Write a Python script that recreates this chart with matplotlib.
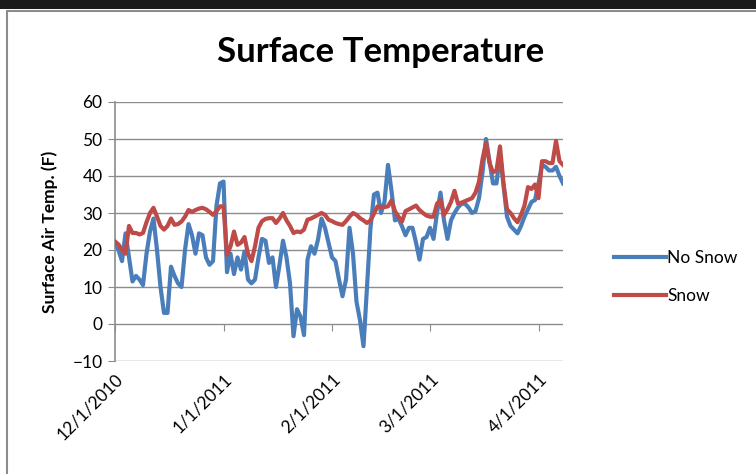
import pandas as pd
import matplotlib
matplotlib.use("Agg")
import matplotlib.pyplot as plt
from matplotlib.patches import Rectangle

# daily surface air temperature (F), starting 12/1/2010
start_date = "2010-12-01"
no_snow = [
    22, 20, 17, 24.5, 18, 11.5, 13, 12, 10.5, 19,
    25, 28.5, 20, 10, 3, 3, 15.5, 13, 11, 10,
    20, 27, 24, 19, 24.5, 24, 18, 16, 17, 32,
    38, 38.5, 14, 19, 13.5, 18, 14.7, 19.6, 12, 11,
    12, 18, 23, 22.5, 16.5, 18, 10, 16, 22.5, 18,
    11, -3.3, 4, 2, -3, 17.4, 21, 19, 22.8, 28.5,
    26, 22, 18, 17, 12, 7.5, 12, 26, 19, 6,
    1, -6, 10, 26, 35, 35.5, 30, 33, 43, 36,
    28, 28.5, 26.4, 24, 26, 26, 22, 17.4, 23, 23.5,
    26, 23, 30, 35.5, 28, 23, 28, 30, 31.5, 32.5,
    32.5, 31.5, 30, 30.5, 34, 41, 50, 44, 38, 38,
    46, 37.5, 29, 26.5, 25.5, 24.5, 26.5, 29, 31, 33,
    33.5, 38, 43, 42.5, 41.5, 41.5, 42.5, 40, 38,
]
snow = [
    22.3, 21.5, 20, 19, 26.5, 24.6, 24.6, 24.2, 24.6, 27.5,
    30, 31.4, 29, 26.5, 25.5, 26.5, 28.5, 26.8, 27, 27.7,
    29, 30.8, 30.3, 30.8, 31.2, 31.4, 31, 30.3, 29.5, 30.5,
    31.8, 31.8, 18.7, 21, 25, 21.4, 22, 23.5, 19, 17,
    21, 26, 27.8, 28.4, 28.6, 28.6, 27.3, 28.5, 30, 28,
    26.5, 24.6, 25, 24.8, 25.5, 28.2, 28.5, 29, 29.5, 30,
    29.5, 28.2, 27.8, 27.3, 27, 26.8, 27.8, 29, 30, 29.5,
    28.6, 28, 27.3, 28, 29.8, 31.8, 31.6, 31.6, 31.8, 33.4,
    30.5, 29, 27.7, 30.5, 31, 31.5, 32, 30.8, 30, 29.3,
    29, 29, 32.5, 33.5, 29.5, 31, 33, 36, 32.5, 32.8,
    33.2, 33.6, 34, 35.5, 38.5, 44.5, 49, 43.5, 41, 41.5,
    48, 38, 31, 30, 28.6, 27.5, 29.5, 32, 37, 36.5,
    37.7, 34, 44, 44, 43.5, 43.5, 49.5, 44, 43,
]
series_labels = ["No Snow", "Snow"]
month_ticks = ["2010-12-01", "2011-01-01", "2011-02-01", "2011-03-01", "2011-04-01"]

dates = pd.date_range(start_date, periods=len(no_snow), freq="D")

plt.rcParams["font.family"] = ["Lato", "DejaVu Sans"]

fig = plt.figure(figsize=(7.56, 4.74), dpi=100)

# chart frame like the spreadsheet export
fig.patches.append(Rectangle((0, 1 - 9 / 474), 1, 9 / 474, transform=fig.transFigure,
                             facecolor="#1a1a1a", edgecolor="none", zorder=-2))
fig.patches.append(Rectangle((7 / 756, -0.05), 1.0, 1 - 11 / 474 + 0.05, transform=fig.transFigure,
                             facecolor="white", edgecolor="#8c8c8c", linewidth=1.5, zorder=-2))

ax = fig.add_axes([115 / 756, 1 - 361 / 474, (563 - 115) / 756, (361 - 102) / 474])
ax.set_zorder(1)
ax.set_facecolor("none")

ax.plot(dates, no_snow, color="#4a7ebb", linewidth=3, label=series_labels[0], zorder=3)
ax.plot(dates, snow, color="#be4b48", linewidth=3, label=series_labels[1], zorder=4)

ax.set_ylim(-10, 60)
ax.set_yticks(range(-10, 61, 10))
ax.set_xlim(dates[0], dates[-1])
ax.grid(axis="y", color="#8c8c8c", linewidth=1)
ax.set_axisbelow(True)

for side in ["top", "right", "bottom"]:
    ax.spines[side].set_visible(False)
ax.spines["left"].set_color("#8c8c8c")
ax.spines["left"].set_linewidth(1.2)

tick_dates = pd.to_datetime(month_ticks)
ax.set_xticks(tick_dates)
ax.set_xticklabels([f"{d.month}/{d.day}/{d.year}" for d in tick_dates],
                   rotation=45, ha="right", rotation_mode="anchor", fontsize=12.5)
ax.tick_params(axis="x", length=0, pad=7)
ax.tick_params(axis="y", length=5, color="#8c8c8c", labelsize=12.5, pad=4)

# category axis drawn through zero, ticks only
zero_axis = ax.secondary_xaxis(10 / 70)
zero_axis.set_xticks(tick_dates)
zero_axis.tick_params(axis="x", length=5, color="#8c8c8c", labelbottom=False, direction="out")
zero_axis.spines["bottom"].set_visible(False)

ax.set_ylabel("Surface Air Temp. (F)", fontsize=12.5, fontweight="bold", labelpad=10)
fig.text(381 / 756, 1 - 52 / 474, "Surface Temperature", ha="center", va="center",
         fontsize=25, fontweight="bold")

fig.legend(loc="center left", bbox_to_anchor=(598 / 756, 1 - 277 / 474), frameon=False,
           handlelength=3.0, labelspacing=1.3, handletextpad=0.1, fontsize=12.5)

fig.savefig("out.png", dpi=100)
